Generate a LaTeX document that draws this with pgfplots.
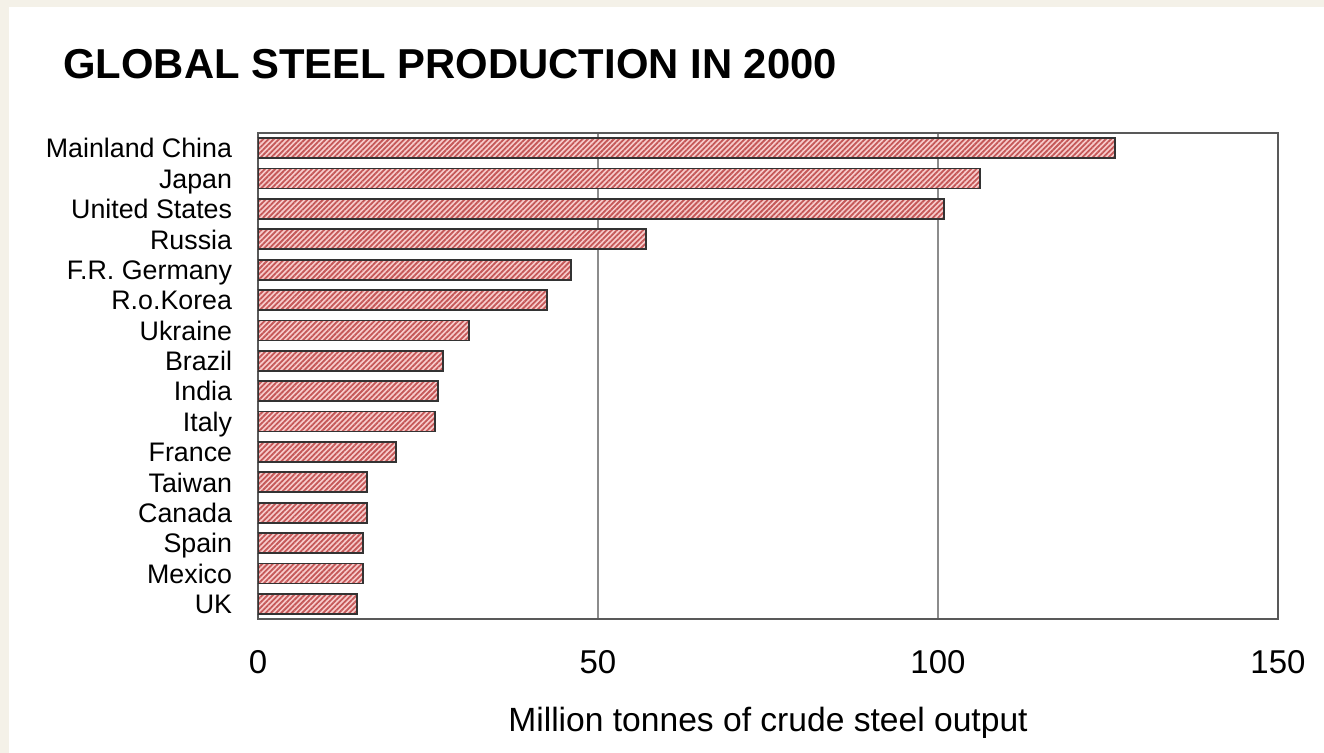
\documentclass[border=0pt]{standalone}
\usepackage{pgfplots}
\pgfplotsset{compat=1.18}
\usepackage{fontspec}
\setmainfont{Liberation Sans}
\usetikzlibrary{patterns.meta}
\definecolor{bgbeige}{RGB}{244,241,232}
\definecolor{barfill}{RGB}{248,204,204}
\definecolor{stripe}{RGB}{196,88,88}
\begin{document}
\begin{tikzpicture}
\fill[bgbeige] (0,0) rectangle (662pt,376.5pt);
\fill[white] (4.5pt,0) rectangle (662pt,373pt);
\node[anchor=base west, font=\bfseries\fontsize{20.9}{24}\selectfont, inner sep=0pt] at (31.5pt,337pt) {GLOBAL STEEL PRODUCTION IN 2000};
\begin{axis}[
  at={(129pt,67pt)}, anchor=south west,
  scale only axis, width=510pt, height=243pt,
  xmin=0, xmax=150, ymin=-0.5, ymax=15.5,
  y dir=reverse,
  xbar, bar width=0.66,
  xtick={0,50,100,150},
  ytick={0,...,15},
  yticklabels={Mainland China,Japan,United States,Russia,F.R. Germany,R.o.Korea,Ukraine,Brazil,India,Italy,France,Taiwan,Canada,Spain,Mexico,UK},
  /pgf/number format/assume math mode=true,
  tick style={draw=none},
  xmajorgrids,
  major grid style={draw=black!45, line width=0.8pt},
  axis line style={draw=black!65, line width=1.3pt},
  yticklabel style={font=\fontsize{13.4}{16}\selectfont, anchor=east, inner sep=0pt, text height=9.6pt, text depth=2.8pt, xshift=-8.5pt, yshift=-1.5pt},
  xticklabel style={font=\fontsize{16.5}{19}\selectfont, anchor=north, inner sep=0pt, yshift=-15.5pt},
  xlabel={Million tonnes of crude steel output},
  xlabel style={font=\fontsize{16.8}{20}\selectfont, at={(axis description cs:0.5,0)}, anchor=north, inner sep=0pt, yshift=-44pt},
]
\addplot[draw=black!80, line width=0.9pt, fill=barfill,
  postaction={pattern={Lines[angle=45,distance=1.85pt,line width=0.9pt]}, pattern color=stripe}]
coordinates {
(126.0,0) (106.2,1) (100.9,2) (57.1,3) (46.0,4) (42.5,5) (31.0,6) (27.2,7)
(26.5,8) (26.0,9) (20.3,10) (16.0,11) (16.0,12) (15.4,13) (15.4,14) (14.6,15)
};
\end{axis}
\pgfresetboundingbox
\useasboundingbox (0,0) rectangle (662pt,376.5pt);
\end{tikzpicture}
\end{document}
